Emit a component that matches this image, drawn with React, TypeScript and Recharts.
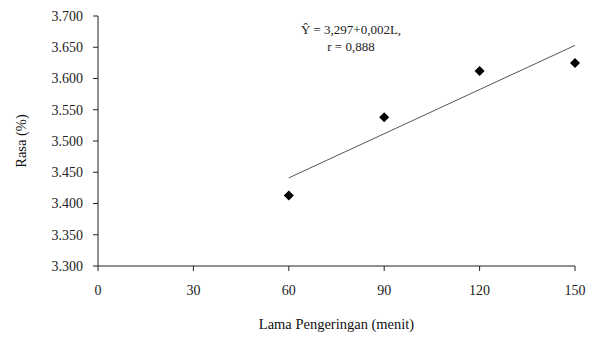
import { ComposedChart, Scatter, Line, XAxis, YAxis, Label } from 'recharts';

// drying time (minutes) and observed taste score
const durations = [60, 90, 120, 150];
const taste = [3.413, 3.538, 3.612, 3.625];

// fitted linear trend, endpoints at 60 and 150 minutes
const trendX = [60, 150];
const trendY = [3.441, 3.653];

const xTicks = [0, 30, 60, 90, 120, 150];
const yTicks = [3.3, 3.35, 3.4, 3.45, 3.5, 3.55, 3.6, 3.65, 3.7];

const points = durations.map((x, i) => ({ x, y: taste[i] }));
const trend = trendX.map((x, i) => ({ x, y: trendY[i] }));

const FONT = '"Liberation Serif", "Times New Roman", serif';
const tickStyle = { fill: '#222', fontSize: 14, fontFamily: FONT };

const Diamond = (props: any) => {
  const { cx, cy } = props;
  const r = 5;
  return <polygon points={`${cx},${cy - r} ${cx + r},${cy} ${cx},${cy + r} ${cx - r},${cy}`} fill="#000" />;
};

export default function App() {
  return (
    <div style={{ position: 'absolute', left: 0, top: 0, width: 594, height: 337, background: '#fff' }}>
      <ComposedChart width={594} height={337} margin={{ top: 16, right: 19, bottom: 41, left: 0 }}>
        <XAxis
          type="number"
          dataKey="x"
          domain={[0, 150]}
          ticks={xTicks}
          height={30}
          stroke="#222"
          tickSize={5}
          tickMargin={14}
          tick={tickStyle}
        >
          <Label value="Lama Pengeringan (menit)" position="bottom" offset={23} style={{ fill: '#111', fontSize: 14.5, fontFamily: FONT }} />
        </XAxis>
        <YAxis
          type="number"
          dataKey="y"
          width={98}
          domain={[3.3, 3.7]}
          ticks={yTicks}
          tickFormatter={(v: number) => v.toFixed(3)}
          stroke="#222"
          tickSize={5}
          tickMargin={10}
          tick={tickStyle}
        >
          <Label value="Rasa (%)" angle={-90} position="insideLeft" offset={21} style={{ fill: '#111', fontSize: 14.5, fontFamily: FONT, textAnchor: 'middle' }} />
        </YAxis>
        <Line data={trend} dataKey="y" stroke="#555" strokeWidth={1} dot={false} isAnimationActive={false} legendType="none" />
        <Scatter data={points} dataKey="y" shape={<Diamond />} isAnimationActive={false} />
      </ComposedChart>
      <div
        style={{
          position: 'absolute',
          left: 296,
          top: 21,
          fontFamily: FONT,
          fontSize: 13,
          color: '#222',
          lineHeight: '17px',
          textAlign: 'center',
          width: 110,
        }}
      >
        <div>Ŷ = 3,297+0,002L,</div>
        <div>r = 0,888</div>
      </div>
    </div>
  );
}
